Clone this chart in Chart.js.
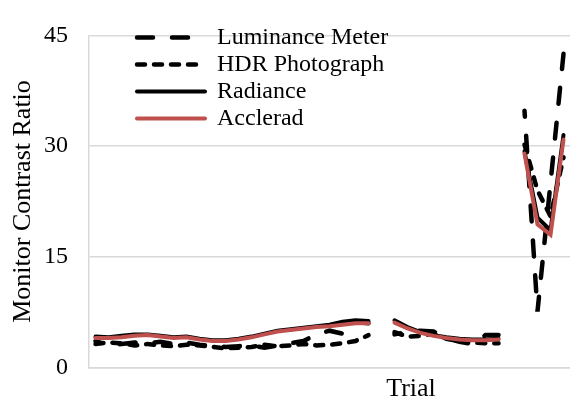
<!DOCTYPE html>
<html>
<head>
<meta charset="utf-8">
<script src="https://cdn.jsdelivr.net/npm/chart.js@4.4.1/dist/chart.umd.min.js"></script>
<style>
  html, body { margin: 0; padding: 0; background: #fff; }
  #wrap { width: 570px; height: 403px; }
</style>
</head>
<body>
<div id="wrap"><canvas id="chart"></canvas></div>
<script>
// trial numbers (x ticks are hidden in the original)
const trials = ['1','2','3','4','5','6','7','8','9','10','11','12','13','14','15','16','17','18','19','20',
  '21','22','23','24','25','26','27','28','29','30','31','32','33','34','35','36','37'];

const luminanceMeter = [3.6, 3.0, 3.2, 3.4, 3.3, 3.5, 3.2, 3.4, 3.1, 2.9, 2.8, 2.9, 3.0, 2.7, 3.0, 3.3, 3.6, 4.5, 5.0, 4.6, 6.2, 6.0,
  null,
  4.5, 4.8, 5.0, 4.9, 4.0, 3.5, 3.2, 4.4, 4.4,
  null,
  34.8, 7.6, 25.0, 42.5];

const hdrPhotograph = [3.2, 3.4, 3.3, 3.0, 3.2, 3.0, 2.9, 3.1, 3.0, 2.8, 2.6, 2.7, 2.8, 3.1, 2.9, 3.0, 3.2, 3.0, 3.1, 3.3, 3.6, 4.4,
  null,
  4.8, 4.2, 4.3, 4.6, 3.9, 3.6, 3.4, 3.3, 3.3,
  null,
  30.2, 24.0, 20.5, 28.5];

const radiance = [4.2, 4.1, 4.3, 4.5, 4.5, 4.3, 4.1, 4.2, 3.9, 3.7, 3.7, 3.9, 4.2, 4.6, 5.0, 5.2, 5.4, 5.6, 5.8, 6.2, 6.4, 6.3,
  null,
  6.4, 5.5, 4.8, 4.4, 4.1, 3.9, 3.8, 3.8, 3.9,
  null,
  29.3, 20.3, 18.6, 31.5];

const acclerad = [4.0, 4.0, 4.1, 4.3, 4.4, 4.2, 4.0, 4.1, 3.8, 3.6, 3.6, 3.8, 4.1, 4.5, 4.9, 5.1, 5.3, 5.5, 5.6, 5.8, 6.0, 6.0,
  null,
  6.1, 5.3, 4.7, 4.3, 4.0, 3.8, 3.7, 3.7, 3.8,
  null,
  29.0, 19.4, 18.0, 30.9];

const yTicks = [0, 15, 30, 45];

const SERIF = "'Liberation Serif', 'Times New Roman', serif";
Chart.defaults.font.family = SERIF;
Chart.defaults.color = '#000';

// x axis title sits right of centre in the original
const trialTitle = {
  id: 'trialTitle',
  afterDraw(chart) {
    const { ctx } = chart;
    ctx.save();
    ctx.font = "26px " + SERIF;
    ctx.fillStyle = '#000';
    ctx.textAlign = 'center';
    ctx.textBaseline = 'middle';
    ctx.fillText('Trial', 411, 389);
    ctx.restore();
  }
};

// push the in-plot legend to the upper left like the original
const legendNudge = {
  id: 'legendNudge',
  afterLayout(chart) {
    const lg = chart.legend;
    const area = chart.chartArea;
    lg.left = area.left + 45;
    lg.top = area.top - 13;
    lg.bottom = area.bottom;
  }
};

// legend lines keep the dataset dash pattern and dataset order
function legendItems(chart) {
  return Chart.defaults.plugins.legend.labels.generateLabels(chart)
    .map((item) => {
      const ds = chart.data.datasets[item.datasetIndex];
      item.lineDash = ds.borderDash || [];
      item.lineDashOffset = 0;
      item.lineCap = ds.borderCapStyle;
      item.lineWidth = ds.borderWidth;
      item.strokeStyle = ds.borderColor;
      item.fillStyle = ds.borderColor;
      return item;
    })
    .sort((a, b) => a.datasetIndex - b.datasetIndex);
}

new Chart(document.getElementById('chart'), {
  type: 'line',
  data: {
    labels: trials,
    datasets: [
      {
        label: 'Luminance Meter',
        data: luminanceMeter,
        borderColor: '#000',
        backgroundColor: '#000',
        borderWidth: 4.5,
        borderDash: [16, 19],
        borderDashOffset: 10,
        borderCapStyle: 'round',
        pointRadius: 0,
        order: 4
      },
      {
        label: 'HDR Photograph',
        data: hdrPhotograph,
        borderColor: '#000',
        backgroundColor: '#000',
        borderWidth: 4.5,
        borderDash: [8, 9],
        borderCapStyle: 'round',
        pointRadius: 0,
        order: 3
      },
      {
        label: 'Radiance',
        data: radiance,
        borderColor: '#000',
        backgroundColor: '#000',
        borderWidth: 4,
        borderCapStyle: 'round',
        pointRadius: 0,
        order: 2
      },
      {
        label: 'Acclerad',
        data: acclerad,
        borderColor: '#c0504d',
        backgroundColor: '#c0504d',
        borderWidth: 4,
        borderCapStyle: 'round',
        pointRadius: 0,
        order: 1
      }
    ]
  },
  options: {
    responsive: true,
    maintainAspectRatio: false,
    animation: false,
    layout: { padding: { top: 21, right: 0, bottom: 0, left: 0 } },
    plugins: {
      tooltip: { enabled: false },
      legend: {
        position: 'chartArea',
        align: 'start',
        labels: {
          usePointStyle: true,
          pointStyle: 'line',
          pointStyleWidth: 68,
          padding: 3,
          color: '#000',
          font: { size: 24, family: SERIF },
          generateLabels: legendItems
        }
      }
    },
    scales: {
      x: {
        type: 'category',
        offset: true,
        ticks: { display: false },
        grid: { display: false, drawTicks: false },
        border: { display: true, color: '#d9d9d9', width: 1.5 },
        afterFit: (scale) => { scale.height = 34; }
      },
      y: {
        min: 0,
        max: 45,
        afterBuildTicks: (scale) => { scale.ticks = yTicks.map(v => ({ value: v })); },
        ticks: { padding: 21, color: '#000', font: { size: 24, family: SERIF } },
        grid: { color: '#d9d9d9', lineWidth: 1.5, drawTicks: false },
        border: { display: true, color: '#d9d9d9', width: 1.5 },
        title: {
          display: true,
          text: 'Monitor Contrast Ratio',
          color: '#000',
          font: { size: 26, family: SERIF },
          padding: { top: 8, bottom: 0 }
        },
        afterFit: (scale) => { scale.width = 89; }
      }
    }
  },
  plugins: [trialTitle, legendNudge]
});
</script>
</body>
</html>
